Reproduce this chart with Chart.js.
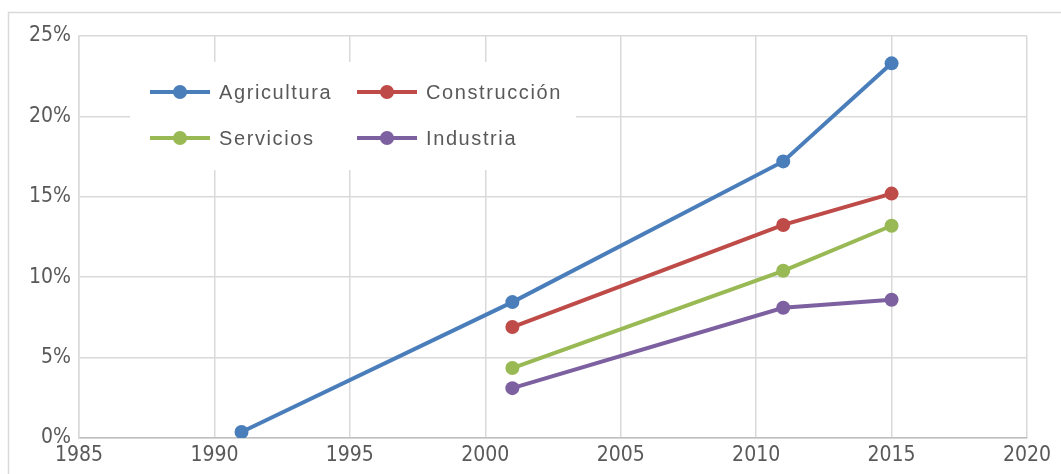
<!DOCTYPE html>
<html>
<head>
<meta charset="utf-8">
<script src="https://cdn.jsdelivr.net/npm/chart.js@4"></script>
<style>
  html, body { margin: 0; padding: 0; background: #fff; }
  #wrap { width: 1061px; height: 474px; position: relative; }
</style>
</head>
<body>
<div id="wrap"><canvas id="myChart" width="1061" height="474"></canvas></div>
<script>
const seriesNames = ["Agricultura", "Construcción", "Servicios", "Industria"];
const seriesColors = ["#4a7ebb", "#be4b48", "#98b954", "#7d60a0"];
const agriculturaYears = [1991, 2001, 2011, 2015];
const agriculturaValues = [0.37, 8.45, 17.2, 23.3];
const otherYears = [2001, 2011, 2015];
const construccionValues = [6.9, 13.25, 15.2];
const serviciosValues = [4.35, 10.4, 13.2];
const industriaValues = [3.1, 8.1, 8.6];
const xTicks = [1985, 1990, 1995, 2000, 2005, 2010, 2015, 2020];
const yTicks = [0, 5, 10, 15, 20, 25];

const labelFont = "'Liberation Sans Narrow', 'DejaVu Sans Condensed', sans-serif";

function pts(xs, ys) {
  return xs.map((x, i) => ({ x: x, y: ys[i] }));
}
const allValues = [
  pts(agriculturaYears, agriculturaValues),
  pts(otherYears, construccionValues),
  pts(otherYears, serviciosValues),
  pts(otherYears, industriaValues)
];

const frame = {
  id: "frame",
  beforeDraw(chart) {
    const ctx = chart.ctx;
    ctx.save();
    ctx.fillStyle = "#fff";
    ctx.fillRect(0, 0, chart.width, chart.height);
    ctx.strokeStyle = "#d9d9d9";
    ctx.lineWidth = 1.5;
    ctx.strokeRect(8.5, 12.5, chart.width + 10, chart.height + 10);
    ctx.restore();
  }
};

const legendBox = {
  id: "legendBox",
  beforeDatasetsDraw(chart) {
    const ctx = chart.ctx;
    ctx.save();
    ctx.fillStyle = "#fff";
    ctx.fillRect(130, 62, 446, 108);
    const cols = [150, 357];
    const rows = [92, 138];
    seriesNames.forEach((name, i) => {
      const x = cols[i % 2];
      const y = rows[Math.floor(i / 2)];
      ctx.strokeStyle = seriesColors[i];
      ctx.lineWidth = 4;
      ctx.beginPath();
      ctx.moveTo(x, y);
      ctx.lineTo(x + 60, y);
      ctx.stroke();
      ctx.fillStyle = seriesColors[i];
      ctx.beginPath();
      ctx.arc(x + 30, y, 7, 0, Math.PI * 2);
      ctx.fill();
      ctx.fillStyle = "#595959";
      ctx.font = "20px 'Liberation Sans', 'DejaVu Sans', sans-serif";
      ctx.letterSpacing = "1.6px";
      ctx.textBaseline = "middle";
      ctx.textAlign = "left";
      ctx.fillText(name, x + 69, y + 1);
    });
    ctx.restore();
  }
};

new Chart(document.getElementById("myChart"), {
  type: "line",
  data: {
    datasets: seriesNames.map((name, i) => ({
      label: name,
      data: allValues[i],
      borderColor: seriesColors[i],
      backgroundColor: seriesColors[i],
      borderWidth: 4,
      pointRadius: 7,
      pointHoverRadius: 7,
      pointBorderWidth: 0,
      tension: 0
    }))
  },
  options: {
    responsive: false,
    animation: false,
    layout: { padding: { top: 36, right: 34, left: 0, bottom: 0 } },
    plugins: {
      legend: { display: false },
      tooltip: { enabled: false }
    },
    scales: {
      x: {
        type: "linear",
        min: 1985,
        max: 2020,
        afterBuildTicks(axis) { axis.ticks = xTicks.map(v => ({ value: v })); },
        afterFit(axis) { axis.height = 36; },
        grid: { color: "#d9d9d9", lineWidth: 1.5, drawTicks: false },
        border: { color: "#bfbfbf", width: 1.5 },
        ticks: {
          color: "#595959",
          font: { family: labelFont, size: 21 },
          padding: 5,
          maxRotation: 0,
          callback: v => String(v)
        }
      },
      y: {
        min: 0,
        max: 25,
        afterBuildTicks(axis) { axis.ticks = yTicks.map(v => ({ value: v })); },
        afterFit(axis) { axis.width = 79; },
        grid: { color: "#d9d9d9", lineWidth: 1.5, drawTicks: false },
        border: { color: "#d9d9d9", width: 1.5 },
        ticks: {
          color: "#595959",
          font: { family: labelFont, size: 21 },
          padding: 8,
          callback: v => v + "%"
        }
      }
    }
  },
  plugins: [frame, legendBox]
});
</script>
</body>
</html>
